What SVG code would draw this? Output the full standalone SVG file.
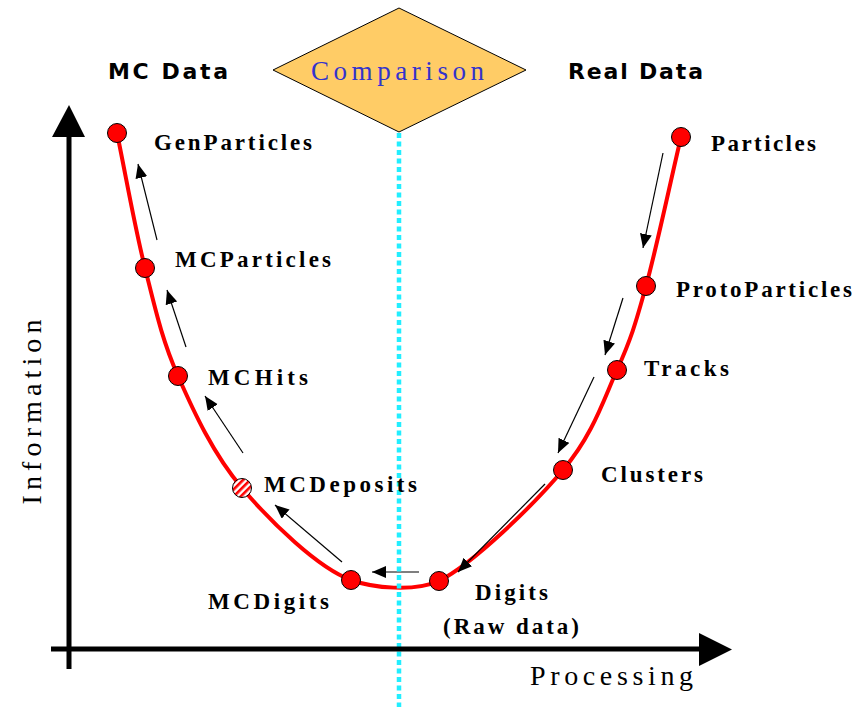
<svg xmlns="http://www.w3.org/2000/svg" width="856" height="707" viewBox="0 0 856 707">
<style>
.lbl{font-family:"Liberation Serif","Times New Roman",serif;font-weight:bold;font-size:23px;fill:#000}
.hdr{font-family:"DejaVu Sans","Liberation Sans",sans-serif;font-weight:bold;font-size:22px;fill:#000}
.ax{font-family:"Liberation Serif","Times New Roman",serif;font-size:28px;fill:#000}
.node circle{fill:#ff0000;stroke:#000;stroke-width:1}
.arr{stroke:#000;stroke-width:1.2;fill:none;marker-end:url(#ah)}
</style>
<defs>
<marker id="ah" markerUnits="userSpaceOnUse" markerWidth="16" markerHeight="14" refX="14" refY="6" orient="auto">
<path d="M0,0 L14,6 L0,12 Z" fill="#000"/>
</marker>
<pattern id="hatch" patternUnits="userSpaceOnUse" width="5" height="5" patternTransform="rotate(45)">
<rect width="5" height="5" fill="#fff"/>
<rect width="2.6" height="5" fill="#ff0000"/>
</pattern>
</defs>
<rect width="856" height="707" fill="#fff"/>

<!-- curve -->
<path d="M117,133 C126.3,178 134.8,227.5 145,268 C155.2,308.5 161.8,339.3 178,376 C194.2,412.7 213.2,454 242,488 C270.8,522 318,568 351,580 C373,588 414,592 439,581 C474,563 533.3,505.2 563,470 C592.7,434.8 603.2,400.7 617,370 C630.8,339.3 635.3,324.8 646,286 C656.7,247.2 669.3,186.7 681,137" fill="none" stroke="#ff0000" stroke-width="4"/>

<g id="connectors">
<line class="arr" x1="157" y1="240" x2="138" y2="164"/>
<line class="arr" x1="186" y1="347" x2="167" y2="290"/>
<line class="arr" x1="243" y1="453" x2="205" y2="396"/>
<line class="arr" x1="342" y1="562" x2="275" y2="505"/>
<line class="arr" x1="419" y1="572" x2="372" y2="572"/>
<line class="arr" x1="663" y1="153" x2="643" y2="248"/>
<line class="arr" x1="623" y1="298" x2="605" y2="355"/>
<line class="arr" x1="594" y1="377" x2="558" y2="453"/>
<line class="arr" x1="545" y1="484" x2="458" y2="572"/>
</g>

<!-- comparison line -->
<line x1="399" y1="133" x2="399" y2="707" stroke="#22eeff" stroke-width="4.5" stroke-dasharray="5,3.5"/>

<!-- axes -->
<g id="axes">
<line x1="69" y1="669" x2="69" y2="135" stroke="#000" stroke-width="5"/>
<polygon points="52,137 69,105 85,137" fill="#000"/>
<line x1="51" y1="649" x2="701" y2="649" stroke="#000" stroke-width="5"/>
<polygon points="699,633 732,649.5 699,666" fill="#000"/>
<text class="ax" transform="translate(41,412) rotate(-90)" text-anchor="middle" textLength="185" lengthAdjust="spacing">Information</text>
<text class="ax" x="530" y="685" textLength="163" lengthAdjust="spacing">Processing</text>
</g>

<g id="comparison">
<polygon points="273,70 399,8 526,70 399,132" fill="#ffcc66" stroke="#000" stroke-width="1"/>
<text x="311" y="80" font-family="Liberation Serif, Times New Roman, serif" font-size="27" fill="#3333cc" textLength="173" lengthAdjust="spacing">Comparison</text>
</g>

<text class="hdr" x="108" y="79" textLength="120" lengthAdjust="spacing">MC Data</text>
<text class="hdr" x="568" y="79" textLength="135" lengthAdjust="spacing">Real Data</text>

<g id="GenParticles" class="node"><circle cx="117" cy="133" r="9.5"/><text class="lbl" x="154" y="150" textLength="158" lengthAdjust="spacing">GenParticles</text></g>
<g id="MCParticles" class="node"><circle cx="145" cy="268" r="9.5"/><text class="lbl" x="175" y="267" textLength="156" lengthAdjust="spacing">MCParticles</text></g>
<g id="MCHits" class="node"><circle cx="178" cy="376" r="9.5"/><text class="lbl" x="208" y="385" textLength="100" lengthAdjust="spacing">MCHits</text></g>
<g id="MCDeposits" class="node"><circle cx="242" cy="488" r="9.5" style="fill:url(#hatch)"/><text class="lbl" x="264" y="492" textLength="153" lengthAdjust="spacing">MCDeposits</text></g>
<g id="MCDigits" class="node"><circle cx="351" cy="580" r="9.5"/><text class="lbl" x="208" y="609" textLength="121" lengthAdjust="spacing">MCDigits</text></g>
<g id="Digits" class="node"><circle cx="439" cy="581" r="9.5"/><text class="lbl" x="475" y="600" textLength="73" lengthAdjust="spacing">Digits</text><text class="lbl" x="443" y="634" textLength="136" lengthAdjust="spacing">(Raw data)</text></g>
<g id="Clusters" class="node"><circle cx="563" cy="470" r="9.5"/><text class="lbl" x="601" y="482" textLength="102" lengthAdjust="spacing">Clusters</text></g>
<g id="Tracks" class="node"><circle cx="617" cy="370" r="9.5"/><text class="lbl" x="644" y="376" textLength="85" lengthAdjust="spacing">Tracks</text></g>
<g id="ProtoParticles" class="node"><circle cx="646" cy="286" r="9.5"/><text class="lbl" x="676" y="297" textLength="176" lengthAdjust="spacing">ProtoParticles</text></g>
<g id="Particles" class="node"><circle cx="681" cy="137" r="9.5"/><text class="lbl" x="711" y="151" textLength="105" lengthAdjust="spacing">Particles</text></g>
</svg>
